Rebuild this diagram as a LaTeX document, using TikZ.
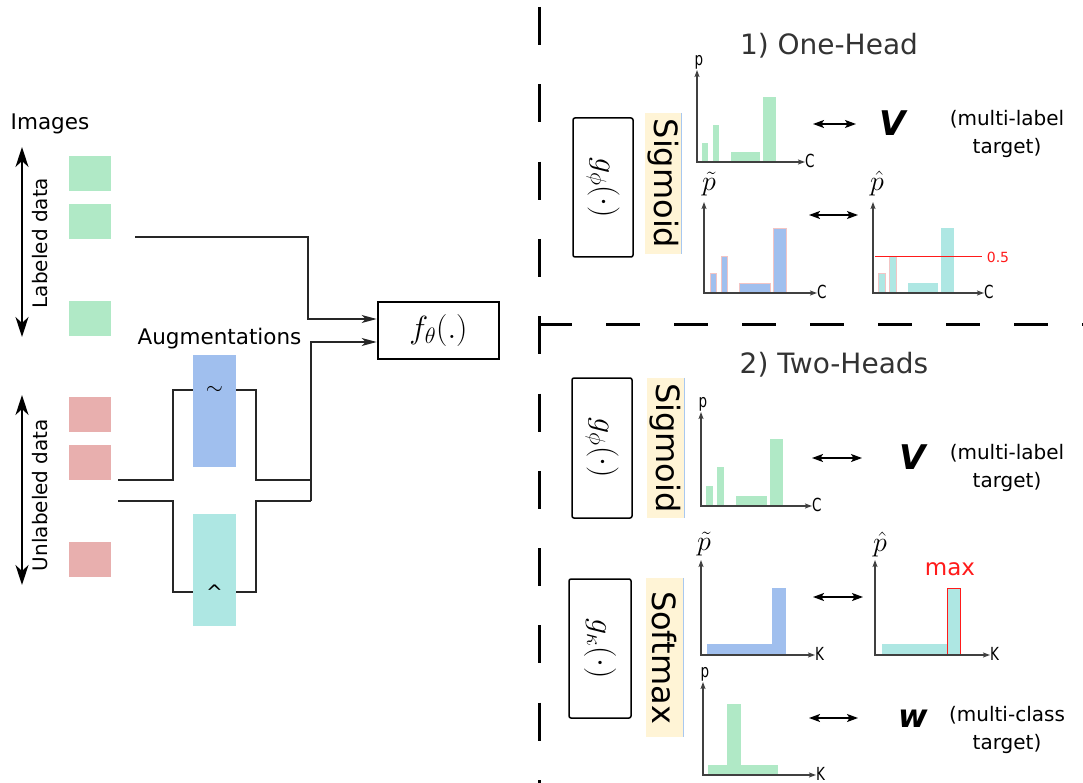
\RequirePackage{fix-cm}
\documentclass[tikz,border=0pt]{standalone}
\usepackage[no-math]{fontspec}
\setmainfont{DejaVu Sans}
\usetikzlibrary{arrows.meta,calc}
\definecolor{cgreen}{HTML}{B0E9C6}
\definecolor{cred}{HTML}{E8AFAE}
\definecolor{cblue}{HTML}{A0BFEE}
\definecolor{ccyan}{HTML}{AEE7E3}
\definecolor{cyel}{HTML}{FFF4D6}
\definecolor{cedge}{HTML}{A8C8F0}
\definecolor{ctitle}{HTML}{333333}
\definecolor{caxis}{HTML}{404040}
\definecolor{cmax}{HTML}{FF1A1A}
\definecolor{cpink}{HTML}{F2C4C4}
\newcommand\fs[1]{\fontsize{#1}{#1}\selectfont}
\newcommand\chartaxes[5]{%
  \coordinate (#1o) at (#2,#3);
  \coordinate (#1y) at (#2,#4);
  \coordinate (#1x) at (#5,#3);
  \draw[axisline] (#1y) -- (#1o) -- (#1x);}
\begin{document}
\begin{tikzpicture}[x=1pt,y=-1pt,
  img/.style={fill=#1, draw=none, minimum width=42pt, minimum height=35pt, inner sep=0pt},
  augbox/.style={fill=#1, draw=none, minimum width=43pt, minimum height=112pt, inner sep=0pt},
  conn/.style={draw=black!85, line width=1.3pt},
  inarrow/.style={conn, -{Stealth[length=15pt,width=8pt,inset=4pt]}},
  bigarrow/.style={line width=1.8pt, {Stealth[length=20pt,width=13pt,inset=6pt]}-{Stealth[length=20pt,width=13pt,inset=6pt]}},
  dbl/.style={line width=1.3pt, {Stealth[length=11pt,width=8pt,inset=2.5pt]}-{Stealth[length=11pt,width=8pt,inset=2.5pt]}},
  axisline/.style={draw=caxis, line width=1.3pt, {Stealth[length=7pt,width=5pt,inset=1.5pt]}-{Stealth[length=7pt,width=5pt,inset=1.5pt]}},
  gbox/.style={draw=black, line width=1.5pt, rounded corners=2pt, rotate=-90, inner sep=0pt, font=\fs{32}},
  actbox/.style={fill=cyel, draw=none, rotate=-90, inner sep=0pt, font=\fs{32}},
  title/.style={text=ctitle, font=\fs{28}},
  side/.style={font=\fs{20}, inner sep=0pt},
  axl/.style={font=\fs{18}, inner sep=0pt},
  mlab/.style={font=\fs{28}, inner sep=0pt},
  target/.style={align=center, font=\fontsize{20}{28}\selectfont, inner sep=0pt},
  bigv/.style={font=\bfseries\itshape\fs{34}, inner sep=0pt},
  dashv/.style={line width=3pt, dash pattern=on 38pt off 39.3pt},
  dashh/.style={line width=3pt, dash pattern=on 34pt off 34pt}
]
\useasboundingbox (0,0) rectangle (1083,783);

% ---------- left: images ----------
\node[font=\fs{21.5}] (imgtxt) at (50,124) {Images};
\node[img=cgreen] (l1) at (90,173.5) {};
\node[img=cgreen] (l2) at (90,221.5) {};
\node[img=cgreen] (l3) at (90,318.5) {};
\node[img=cred] (u1) at (90,414.5) {};
\node[img=cred] (u2) at (90,462.5) {};
\node[img=cred] (u3) at (90,559.5) {};

\coordinate (la1) at (22,147);
\coordinate (la2) at (22,337);
\draw[bigarrow] (la1) -- (la2);
\node[side, rotate=90] (labtxt) at (40,243) {Labeled data};
\coordinate (ua1) at (22,395);
\coordinate (ua2) at (22,585);
\draw[bigarrow] (ua1) -- (ua2);
\node[side, rotate=90] (unltxt) at (40,495) {Unlabeled data};

% ---------- augmentations ----------
\node[font=\fs{21.5}] (augtxt) at (219.5,339) {Augmentations};
\node[augbox=cblue] (augb) at (214.5,411) {};
\node[augbox=ccyan] (augc) at (214.5,569.5) {};
\node[font=\fs{22}, inner sep=0pt] (tl) at (214.5,390) {$\sim$};
\node[font=\fs{20}, inner sep=0pt] (ht) at (214.5,592) {\textasciicircum};

% ---------- f theta ----------
\node[draw=black, line width=2.7pt, minimum width=121pt, minimum height=57pt, inner sep=0pt, font=\fs{32}] (f) at (438.5,330.5) {$f_\theta(.)$};

% labeled connector
\coordinate (ls) at (135,237);
\draw[inarrow] (ls) -- (308,237) |- ($(f.west)+(0,-11.5)$);

% unlabeled connectors
\coordinate (us1) at (118,480);
\coordinate (us2) at (118,501);
\coordinate (mj1) at (311,480);
\coordinate (mj2) at (311,501);
\draw[conn] (us1) -- (173,480) |- (augb.west |- tl);
\draw[conn] (augb.east |- tl) -- (256,390) |- (mj1);
\draw[conn] (us2) -- (173,501) |- (augc.west |- ht);
\draw[conn] (augc.east |- ht) -- (256,592) |- (mj2);
\draw[inarrow] (mj2) |- ($(f.west)+(0,11.5)$);

% ---------- dashed separators ----------
\coordinate (vtop) at (539,7);
\coordinate (vbot) at (539,783);
\draw[dashv] (vtop) -- (vbot);
\coordinate (hl) at (538,324);
\coordinate (hr) at (1083,324);
\draw[dashh] (hl) -- (hr);

% ---------- 1) One-Head ----------
\node[title] (t1) at (829,46) {1) One-Head};
\node[gbox, minimum width=139pt, minimum height=60pt] (g1) at (603,187.5) {$g_\phi(\cdot)$};
\node[actbox, minimum width=141pt, minimum height=36pt] (s1) at (663,183.5) {Sigmoid};
\draw[cedge, line width=1pt] (s1.north west) -- (s1.north east);

% chart A
\fill[cgreen] (702,143) rectangle (708,162);
\fill[cgreen] (713,125) rectangle (719,162);
\fill[cgreen] (731,152) rectangle (760,162);
\fill[cgreen] (763,97) rectangle (776,162);
\chartaxes{A}{697}{162}{70}{805}
\node[axl, anchor=south] (Ap) at (699,69) {\scalebox{0.75}[1]{p}};
\node[axl, anchor=west] (AC) at (805,161) {\scalebox{0.75}[1]{C}};
\coordinate (da1) at (813,124);
\coordinate (da2) at (856,124);
\draw[dbl] (da1) -- (da2);
\node[bigv] (V1) at (893,123) {V};
\node[target] (tg1) at (1007,134) {(multi-label\\target)};

% chart B
\filldraw[fill=cblue, draw=cpink, line width=0.5pt] (710,273) rectangle (716,293);
\filldraw[fill=cblue, draw=cpink, line width=0.5pt] (721,256) rectangle (727,293);
\filldraw[fill=cblue, draw=cpink, line width=0.5pt] (739,283) rectangle (770,293);
\filldraw[fill=cblue, draw=cpink, line width=0.5pt] (773,228) rectangle (786,293);
\chartaxes{B}{704}{293}{202}{817}
\node[mlab] (Bp) at (709,184) {$\tilde p$};
\node[axl, anchor=west] (BC) at (817,292) {\scalebox{0.75}[1]{C}};
\coordinate (db1) at (809,215);
\coordinate (db2) at (858,215);
\draw[dbl] (db1) -- (db2);

% chart C
\filldraw[fill=ccyan, draw=cpink, line width=0.5pt] (878,273) rectangle (885,293);
\filldraw[fill=ccyan, draw=cpink, line width=0.5pt] (889,256) rectangle (896,293);
\fill[ccyan] (908,283) rectangle (938,293);
\fill[ccyan] (941,228) rectangle (954,293);
\chartaxes{C}{873}{293}{202}{984}
\coordinate (th1) at (875,257);
\coordinate (th2) at (982,257);
\draw[cmax, line width=1pt] (th1) -- (th2);
\node[font=\fs{14}, text=cmax, inner sep=0pt] (half) at (998,257) {0.5};
\node[mlab] (Cp) at (877,184) {$\hat p$};
\node[axl, anchor=west] (CC) at (984,292) {\scalebox{0.75}[1]{C}};

% ---------- 2) Two-Heads ----------
\node[title] (t2) at (834,365) {2) Two-Heads};
\node[gbox, minimum width=140pt, minimum height=60pt] (g2) at (602,448) {$g_\phi(\cdot)$};
\node[actbox, minimum width=140pt, minimum height=37pt] (s2) at (665.5,448) {Sigmoid};
\draw[cedge, line width=1pt] (s2.north west) -- (s2.north east);

% chart D
\fill[cgreen] (706,486) rectangle (713,506);
\fill[cgreen] (717,467) rectangle (724,506);
\fill[cgreen] (736,496) rectangle (767,506);
\fill[cgreen] (770,439) rectangle (783,506);
\chartaxes{D}{701}{506}{412}{812}
\node[axl, anchor=south] (Dp) at (703,411) {\scalebox{0.75}[1]{p}};
\node[axl, anchor=west] (DC) at (812,505) {\scalebox{0.75}[1]{C}};
\coordinate (dd1) at (812,458);
\coordinate (dd2) at (862,458);
\draw[dbl] (dd1) -- (dd2);
\node[bigv] (V2) at (913,457) {V};
\node[target] (tg2) at (1007,467.5) {(multi-label\\target)};

% softmax head
\node[gbox, minimum width=139pt, minimum height=62pt] (g3) at (600,648.5) {$g_\kappa(\cdot)$};
\node[actbox, minimum width=159pt, minimum height=37pt] (s3) at (664.5,657.5) {Softmax};
\draw[cedge, line width=1pt] (s3.north west) -- (s3.north east);

% chart E
\fill[cblue] (707,644) rectangle (772,655);
\fill[cblue] (772,588) rectangle (786,655);
\chartaxes{E}{701}{655}{560}{815}
\node[mlab] (Ep) at (704,544) {$\tilde p$};
\node[axl, anchor=west] (EK) at (815,654) {\scalebox{0.75}[1]{K}};
\coordinate (de1) at (813,597);
\coordinate (de2) at (863,597);
\draw[dbl] (de1) -- (de2);

% chart F
\fill[ccyan] (882,644) rectangle (947,655);
\filldraw[fill=ccyan, draw=cmax, line width=1pt] (947,588) rectangle (960,655);
\chartaxes{F}{875}{655}{560}{990}
\node[mlab] (Fp) at (880,544) {$\hat p$};
\node[axl, anchor=west] (FK) at (990,654) {\scalebox{0.75}[1]{K}};
\node[font=\fs{23}, text=cmax, inner sep=0pt] (maxt) at (950,569) {max};

% chart G
\fill[cgreen] (708,765) rectangle (778,775);
\fill[cgreen] (727,704) rectangle (741,765);
\chartaxes{G}{703}{775}{682}{816}
\node[axl, anchor=south] (Gp) at (705,681) {\scalebox{0.75}[1]{p}};
\node[axl, anchor=west] (GK) at (816,774) {\scalebox{0.75}[1]{K}};
\coordinate (dg1) at (809,718);
\coordinate (dg2) at (858,718);
\draw[dbl] (dg1) -- (dg2);
\node[font=\bfseries\itshape\fs{32}, inner sep=0pt] (W) at (913,719) {w};
\node[target] (tg3) at (1007,729.5) {(multi-class\\target)};
\end{tikzpicture}
\end{document}
